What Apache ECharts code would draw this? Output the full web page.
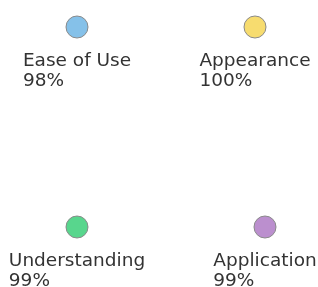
<!DOCTYPE html>
<html>
<head>
<meta charset="utf-8">
<style>html,body{margin:0;padding:0;background:#fff}#c{width:318px;height:287px}</style>
<script src="https://cdn.jsdelivr.net/npm/echarts@6/dist/echarts.min.js"></script>
</head>
<body>
<div id="c"></div>
<script>
var names = ['Ease of Use', 'Appearance', 'Understanding', 'Application'];
var percents = [98, 100, 99, 99];
var xPos = [77, 255, 77, 265];
var yPos = [27, 27, 227, 227];
var colors = ['#85C1E9', '#F7DC6F', '#58D68D', '#BB8FCE'];

var chart = echarts.init(document.getElementById('c'), null, {renderer: 'canvas'});
var data = names.map(function (n, i) {
  return {
    name: n,
    value: [xPos[i], yPos[i], percents[i]],
    itemStyle: {color: colors[i]}
  };
});
chart.setOption({
  animation: false,
  grid: {left: 0, right: 0, top: 0, bottom: 0},
  xAxis: {type: 'value', min: 0, max: 318, show: false},
  yAxis: {type: 'value', min: 0, max: 287, inverse: true, show: false},
  series: [{
    type: 'scatter',
    symbolSize: 22,
    data: data,
    itemStyle: {borderColor: '#8a8a8a', borderWidth: 1, opacity: 1},
    label: {
      show: true,
      position: 'bottom',
      distance: 13,
      formatter: function (p) {
        return '{a|' + p.name + '}\n{a|' + p.value[2] + '%}';
      },
      rich: {
        a: {align: 'left', fontFamily: 'DejaVu Sans', fontSize: 18.5, lineHeight: 20, color: '#333'}
      }
    }
  }]
});
</script>
</body>
</html>
